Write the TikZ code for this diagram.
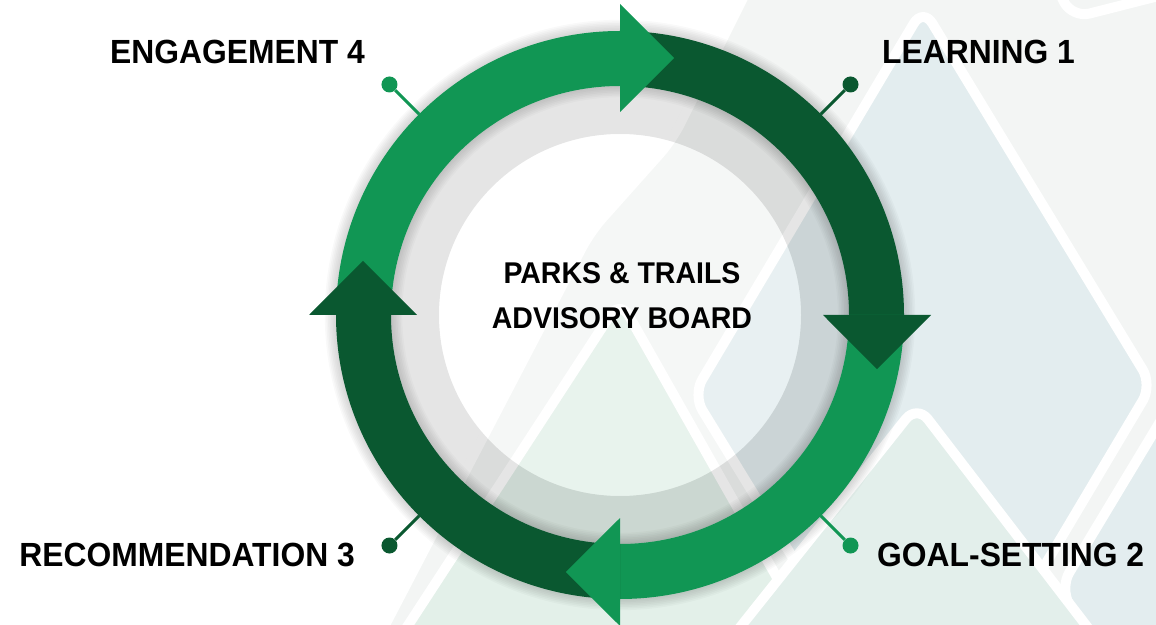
\documentclass[tikz,border=0pt]{standalone}
\usepackage{fontspec}
\setmainfont{Liberation Sans}[FakeStretch=0.95]
\definecolor{ltgreen}{RGB}{17,150,84}
\definecolor{dkgreen}{RGB}{10,88,48}
\definecolor{bggray}{RGB}{243,245,244}
\definecolor{bgblue}{RGB}{227,237,239}
\definecolor{bgmint}{RGB}{227,240,233}
\tikzset{
    stagetext/.style={font=\bfseries\fontsize{33.5}{40}\selectfont, inner sep=0pt},
    stagedot/.style={circle, inner sep=0pt, minimum size=16pt},
    peak/.style={draw=white, line width=10pt, rounded corners=18pt, line join=round},
}
\begin{document}
\begin{tikzpicture}[x=1pt,y=1pt]
    \useasboundingbox (0,0) rectangle (1156,624);
    \begin{scope}
        \clip (0,0) rectangle (1156,624);
        \begin{scope}[yshift=624pt, yscale=-1]
            \filldraw[peak, fill=bggray] (752,-20) -- (672,140) -- (590,232) -- (372,650) -- (1190,650) -- (1190,-20) -- cycle;
            \filldraw[peak, fill=bgblue] (923,8) -- (1152,385) -- (923,770) -- (693,395) -- cycle;
            \filldraw[peak, fill=bgblue] (1190,372) -- (1060,588) -- (1095,650) -- (1190,650) -- cycle;
            \filldraw[peak, fill=bgmint] (620,300) -- (818,650) -- (392,650) -- cycle;
            \filldraw[peak, fill=bgmint!60!bgblue] (917,405) -- (1105,650) -- (722,650) -- cycle;
            \draw[peak] (1058,-10) -- (1072,18) -- (1190,-12);
        \end{scope}
    \end{scope}
    \begin{scope}[shift={(620,309)}]
        \foreach \i in {1,...,7}
            \fill[black, opacity=0.022, even odd rule] (0,0) circle[radius=284+\i*1.6] circle[radius=229-\i*1.6];
        \fill[black, opacity=0.1, even odd rule] (0,0) circle[radius=229] circle[radius=181];
        \fill[white, opacity=0.2] (0,0) circle[radius=181];
        \foreach[count=\x] \c in {dkgreen,ltgreen,dkgreen,ltgreen}
        {
            \pgfmathsetmacro\s{180-90*\x}
            \pgfmathsetmacro\e{90-90*\x}
            \pgfmathsetmacro\m{135-90*\x}
            \fill[\c] (\s:284) arc[start angle=\s, end angle=\e, radius=284] -- (\e:229) arc[start angle=\e, end angle=\s, radius=229] -- cycle;
            \node[stagedot, fill=\c] (d\x) at (\m:326) {};
            \coordinate (r\x) at (\m:284);
            \draw[\c, line width=3pt] (d\x) -- (r\x);
        }
        \foreach[count=\x] \c in {dkgreen,ltgreen,dkgreen,ltgreen}
        {
            \pgfmathsetmacro\e{90-90*\x}
            \fill[\c] (\e:203) -- (\e-11.9:262.6) -- (\e:311) -- cycle;
        }
    \end{scope}
    \node[font=\bfseries\fontsize{30}{45}\selectfont, align=center] (board) at (622,328.5) {PARKS \& TRAILS\\ADVISORY BOARD};
    \node[stagetext, anchor=west] (t1) at (882,572) {LEARNING 1};
    \node[stagetext, anchor=west] (t2) at (877,69) {GOAL-SETTING 2};
    \node[stagetext, anchor=east] (t3) at (355,69) {RECOMMENDATION 3};
    \node[stagetext, anchor=east] (t4) at (365,572) {ENGAGEMENT 4};
\end{tikzpicture}
\end{document}
